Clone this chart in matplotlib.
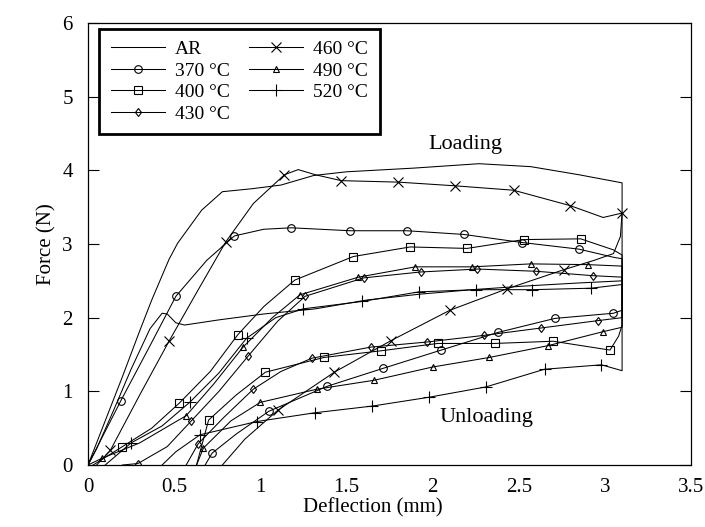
import matplotlib
matplotlib.use("Agg")
import matplotlib.pyplot as plt

plt.rcParams['font.family'] = ['Liberation Serif', 'DejaVu Serif']

# force-deflection loops, loading branch then unloading branch
ar_x = [0, 0.10, 0.20, 0.30, 0.37, 0.47, 0.52, 0.66, 0.78, 0.95, 1.12, 1.31, 1.50, 1.89, 2.27, 2.57, 2.85, 3.1,
        3.1, 2.84, 2.54, 2.23, 1.93, 1.62, 1.32, 1.02, 0.76, 0.56, 0.51, 0.46, 0.43, 0.36, 0.25, 0.15, 0.05, 0]
ar_y = [0, 0.6, 1.2, 1.82, 2.24, 2.79, 3.01, 3.46, 3.71, 3.75, 3.8, 3.93, 3.98, 4.03, 4.09, 4.05, 3.94, 3.83,
        2.5, 2.47, 2.43, 2.38, 2.32, 2.24, 2.12, 2.05, 1.97, 1.9, 1.93, 2.05, 2.06, 1.85, 1.3, 0.75, 0.22, 0]

x370 = [0, 0.19, 0.36, 0.51, 0.69, 0.85, 1.02, 1.18, 1.52, 1.85, 2.18, 2.52, 2.85, 3.05, 3.1,
        3.1, 3.05, 2.71, 2.38, 2.05, 1.71, 1.39, 1.05, 0.86, 0.72, 0.68]
y370 = [0, 0.87, 1.62, 2.29, 2.78, 3.11, 3.2, 3.22, 3.18, 3.18, 3.13, 3.02, 2.93, 2.82, 2.8,
        2.1, 2.06, 1.99, 1.80, 1.56, 1.31, 1.07, 0.73, 0.42, 0.16, 0]
m370 = [1, 3, 5, 7, 8, 9, 10, 11, 12, 16, 17, 18, 19, 20, 21, 22, 24]

x400 = [0.03, 0.2, 0.37, 0.53, 0.71, 0.87, 1.02, 1.2, 1.54, 1.87, 2.2, 2.53, 2.86, 3.05, 3.1,
        3.1, 3.08, 3.03, 2.7, 2.36, 2.03, 1.7, 1.37, 1.03, 0.86, 0.7, 0.63]
y400 = [0, 0.25, 0.5, 0.84, 1.27, 1.77, 2.15, 2.51, 2.83, 2.96, 2.94, 3.06, 3.07, 2.92, 2.85,
        1.9, 1.75, 1.56, 1.68, 1.65, 1.65, 1.55, 1.46, 1.26, 0.95, 0.61, 0]
m400 = [1, 3, 5, 7, 8, 9, 10, 11, 12, 17, 18, 19, 20, 21, 22, 23, 25]

x430 = [0.2, 0.29, 0.46, 0.6, 0.76, 0.93, 1.1, 1.26, 1.6, 1.93, 2.26, 2.6, 2.93, 3.1,
        3.1, 2.96, 2.63, 2.3, 1.97, 1.64, 1.3, 1.12, 0.96, 0.79, 0.64, 0.57]
y430 = [0, 0.02, 0.25, 0.60, 1.0, 1.48, 1.95, 2.29, 2.54, 2.62, 2.66, 2.63, 2.57, 2.55,
        2.0, 1.96, 1.86, 1.76, 1.67, 1.6, 1.45, 1.27, 1.03, 0.65, 0.29, 0]
m430 = [1, 3, 5, 7, 8, 9, 10, 11, 12, 15, 16, 17, 18, 19, 20, 22, 24]

x460 = [0.05, 0.13, 0.3, 0.47, 0.64, 0.8, 0.96, 1.14, 1.22, 1.32, 1.47, 1.8, 2.13, 2.47, 2.8, 2.99, 3.1,
        3.09, 3.05, 2.94, 2.76, 2.43, 2.1, 1.76, 1.43, 1.1, 0.91, 0.78]
y460 = [0, 0.2, 0.95, 1.68, 2.38, 3.03, 3.55, 3.94, 4.01, 3.94, 3.86, 3.84, 3.79, 3.73, 3.52, 3.36, 3.42,
        3.1, 2.87, 2.78, 2.65, 2.39, 2.1, 1.69, 1.26, 0.74, 0.35, 0]
m460 = [1, 3, 5, 7, 10, 11, 12, 13, 14, 16, 20, 21, 22, 23, 24, 25]

x490 = [0, 0.08, 0.3, 0.57, 0.73, 0.9, 1.07, 1.23, 1.57, 1.9, 2.23, 2.57, 2.9, 3.1,
        3.1, 2.99, 2.67, 2.33, 2.0, 1.66, 1.33, 1.0, 0.83, 0.67, 0.63]
y490 = [0, 0.09, 0.3, 0.67, 1.1, 1.6, 2.0, 2.31, 2.55, 2.69, 2.69, 2.73, 2.72, 2.7,
        1.87, 1.81, 1.62, 1.46, 1.33, 1.15, 1.03, 0.85, 0.6, 0.23, 0]
m490 = [1, 3, 5, 7, 8, 9, 10, 11, 12, 15, 16, 17, 18, 19, 20, 21, 23]

x520 = [0.1, 0.25, 0.43, 0.59, 0.76, 0.92, 1.09, 1.25, 1.59, 1.92, 2.25, 2.58, 2.92, 3.1,
        3.1, 2.98, 2.65, 2.31, 1.98, 1.65, 1.32, 0.98, 0.65, 0.51, 0.43]
y520 = [0, 0.3, 0.53, 0.85, 1.25, 1.72, 2.0, 2.12, 2.22, 2.35, 2.38, 2.38, 2.40, 2.45,
        1.28, 1.36, 1.30, 1.06, 0.92, 0.80, 0.71, 0.59, 0.41, 0.18, 0]
m520 = [1, 3, 5, 7, 8, 9, 10, 11, 12, 15, 16, 17, 18, 19, 20, 21, 22]

x_ticks = [0, 0.5, 1, 1.5, 2, 2.5, 3, 3.5]
x_tick_labels = ['0', '0.5', '1', '1.5', '2', '2.5', '3', '3.5']
y_ticks = [0, 1, 2, 3, 4, 5, 6]

fig = plt.figure(figsize=(7.05, 5.27), dpi=100)
ax = fig.add_axes([88 / 705, 1 - 465 / 527, 603 / 705, 442 / 527])

lw = 0.75
ax.plot(ar_x, ar_y, color='black', lw=lw, label='AR')
series = [
    (x370, y370, m370, 'o', 5.5, '370 °C'),
    (x400, y400, m400, 's', 5.5, '400 °C'),
    (x430, y430, m430, 'd', 4.5, '430 °C'),
    (x460, y460, m460, 'x', 7, '460 °C'),
    (x490, y490, m490, '^', 5, '490 °C'),
    (x520, y520, m520, '+', 8, '520 °C'),
]
for xs, ys, marks, mk, ms, lab in series:
    ax.plot(xs, ys, color='black', lw=lw, marker=mk, markevery=marks,
            ms=ms, mfc='none', mec='black', mew=0.8, label=lab)

ax.text(2.19, 4.35, 'Loading', fontsize=16, ha='center', va='center')
ax.text(2.31, 0.64, 'Unloading', fontsize=16, ha='center', va='center')

ax.set_xlim(0, 3.5)
ax.set_ylim(0, 6)
ax.set_xticks(x_ticks)
ax.set_xticklabels(x_tick_labels)
ax.set_yticks(y_ticks)
ax.tick_params(axis='x', length=0, pad=9, labelsize=15)
ax.tick_params(axis='y', direction='in', length=8, width=0.8, right=True, pad=11, labelsize=15)
for s in ax.spines.values():
    s.set_linewidth(0.9)

ax.set_xlabel('Deflection (mm)', fontsize=15)
ax.xaxis.set_label_coords(0.473, -0.075)
ax.set_ylabel('Force (N)', fontsize=15)

leg = ax.legend(ncol=2, loc='upper left', bbox_to_anchor=(0.018, 0.987), borderaxespad=0,
                fontsize=14, numpoints=1, handlelength=2.8, handletextpad=0.5,
                columnspacing=1.0, labelspacing=0.2, borderpad=0.6, fancybox=False,
                framealpha=1, edgecolor='black')
leg.get_frame().set_linewidth(2)

fig.savefig('out.png', dpi=100)
